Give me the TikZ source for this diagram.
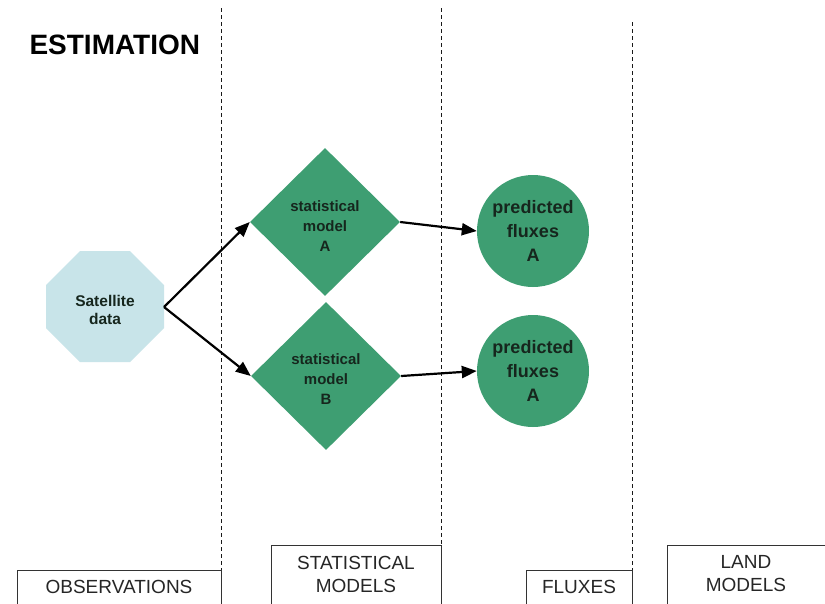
\documentclass[tikz,border=0pt]{standalone}
\usepackage{fontspec}
\setmainfont{Liberation Sans}
\usetikzlibrary{shapes.geometric,arrows.meta}
\definecolor{mgreen}{HTML}{3E9E72}
\definecolor{sblue}{HTML}{C8E4E9}
\definecolor{dtext}{HTML}{16261D}
\tikzset{
  sep/.style={draw=black!90, line width=0.9pt, dash pattern=on 4pt off 3pt},
  lanebox/.style={draw=black!80, line width=0.8pt},
  lanelabel/.style={font=\fontsize{19}{23}\selectfont, align=center, text=black!85},
  diam/.style={diamond, fill=mgreen, minimum width=150pt, minimum height=148pt, inner sep=0pt},
  diamtext/.style={font=\fontsize{15}{20}\selectfont\bfseries, text=dtext, align=center},
  flux/.style={circle, fill=mgreen, minimum size=112pt, inner sep=0pt,
    font=\fontsize{18}{24}\selectfont\bfseries, text=dtext, align=center},
  conn/.style={-{Triangle[length=15pt,width=12pt]}, line width=2.2pt, black},
}
\begin{document}
\begin{tikzpicture}[x=1pt,y=-1pt]
\useasboundingbox (0,0) rectangle (825,603);
\fill[white] (0,0) rectangle (825,603);
% title
\node[font=\fontsize{28}{32}\selectfont\bfseries, anchor=west] (title) at (26,45) {ESTIMATION};
% dashed separators
\coordinate (s1t) at (221,8);  \coordinate (s1b) at (221,570);
\coordinate (s2t) at (441,8);  \coordinate (s2b) at (441,545);
\coordinate (s3t) at (632,22); \coordinate (s3b) at (632,570);
\draw[sep] (s1t) -- (s1b);
\draw[sep] (s2t) -- (s2b);
\draw[sep] (s3t) -- (s3b);
% lane boxes (open at bottom)
\draw[lanebox] (17,606) -- (17,570) -- (221,570) -- (221,606);
\draw[lanebox] (271,606) -- (271,545) -- (441,545) -- (441,606);
\draw[lanebox] (526,606) -- (526,570) -- (632,570) -- (632,606);
\draw[lanebox] (667,606) -- (667,545) -- (830,545);
\node[lanelabel] (obs) at (119,587) {OBSERVATIONS};
\node[lanelabel] (stat) at (356,574) {STATISTICAL\\MODELS};
\node[lanelabel] (flx) at (579,587) {FLUXES};
\node[lanelabel] (land) at (746,574) {LAND\\MODELS};
% satellite octagon
\fill[sblue] (80,251) -- (130,251) -- (164,285) -- (164,328) -- (130,362) -- (80,362) -- (46,328) -- (46,285) -- cycle;
\node[font=\fontsize{15.5}{18}\selectfont\bfseries, text=dtext, align=center] (sat) at (105,310) {Satellite\\data};
\coordinate (satE) at (164,307);
% diamonds
\node[diam] (dA) at (325,222) {};
\node[diam] (dB) at (326,376) {};
\node[diamtext] (dAt) at (325,226) {statistical\\model\\A};
\node[diamtext] (dBt) at (326,379) {statistical\\model\\B};
% circles
\node[flux] (cA) at (533,231) {predicted\\fluxes\\A};
\node[flux] (cB) at (533,371) {predicted\\fluxes\\A};
% connectors
\draw[conn] (satE) -- (dA.west);
\draw[conn] (satE) -- (dB.west);
\draw[conn] (dA.east) -- (cA.west);
\draw[conn] (dB.east) -- (cB.west);
\end{tikzpicture}
\end{document}
